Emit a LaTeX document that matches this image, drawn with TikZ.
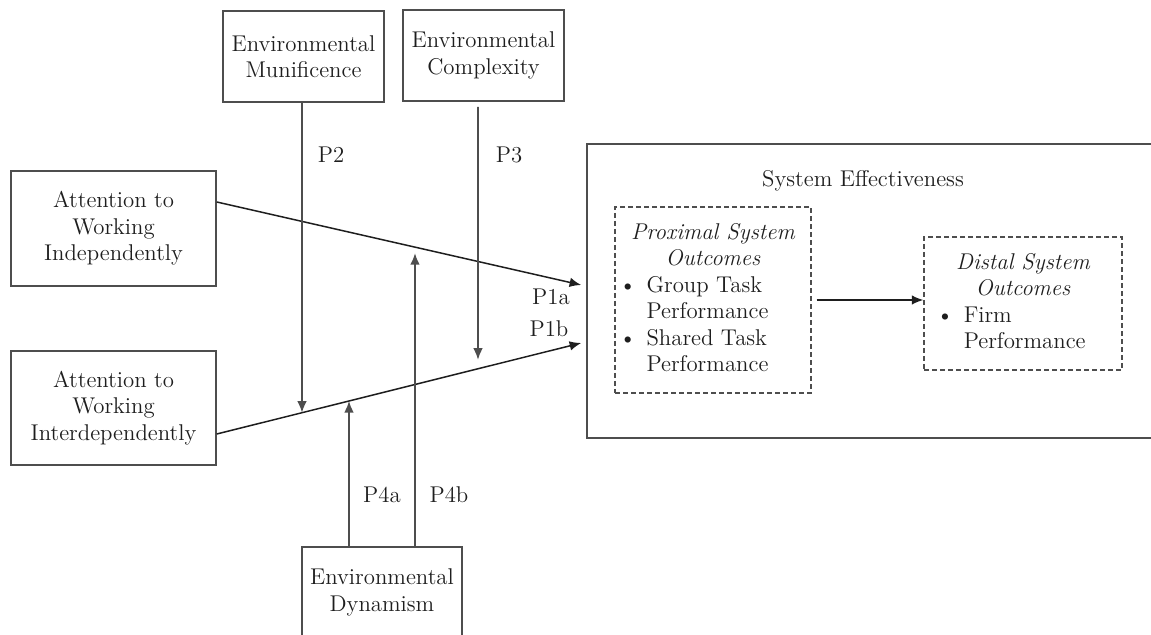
\documentclass[tikz,border=0pt]{standalone}
\usetikzlibrary{arrows.meta,calc}
\definecolor{ink}{HTML}{1E1E1E}
\definecolor{rule}{HTML}{4E4E4E}
\begin{document}
\begin{tikzpicture}[x=0.5pt,y=-0.5pt,
  font=\fontsize{11.4}{13.25}\selectfont,
  box/.style={draw=rule,line width=0.8pt,inner sep=0pt,align=center,text=ink},
  dbox/.style={draw=rule,line width=0.65pt,dash pattern=on 2.5pt off 1.5pt,inner sep=0pt,text=ink},
  arr/.style={draw=ink,line width=0.75pt,-{Latex[length=5.8pt,width=4.8pt]}},
  varr/.style={arr,draw=rule,line width=0.8pt},
  lab/.style={text=ink,inner sep=0pt}]
\useasboundingbox (0,0) rectangle (1151,635);
\clip (0,0) rectangle (1151,635);

% moderators
\node[box,minimum width=80.5pt,minimum height=45.5pt] (mun) at (303.5,56.5) {Environmental\\Munificence};
\node[box,minimum width=80.5pt,minimum height=45.5pt] (cpx) at (483.5,55.5) {Environmental\\Complexity};
\node[box,minimum width=80pt,minimum height=45.5pt] (dyn) at (382,592.5) {Environmental\\Dynamism};

% predictors
\node[box,minimum width=102.5pt,minimum height=57.5pt] (ind) at (113.5,228.5) {Attention to\\Working\\Independently};
\node[box,minimum width=102.5pt,minimum height=57pt] (itd) at (113.5,408) {Attention to\\Working\\Interdependently};

% outcome system
\node[box,minimum width=296.5pt,minimum height=147pt] (sys) at (883.5,291) {};
\node[lab] (systitle) at (863,181) {System Effectiveness};
\node[dbox,minimum width=98pt,minimum height=93pt] (prox) at (713,300) {%
  \begin{tabular}{@{}l@{\hspace{5pt}}l@{}}
  \multicolumn{2}{c}{\itshape Proximal System}\\
  \multicolumn{2}{c}{\itshape Outcomes}\\
  \textbullet & Group Task\\
   & Performance\\
  \textbullet & Shared Task\\
   & Performance
  \end{tabular}};
\node[dbox,minimum width=99pt,minimum height=66.5pt] (dist) at (1023,303.5) {%
  \begin{tabular}{@{}l@{\hspace{5pt}}l@{}p{12pt}@{}}
  \multicolumn{3}{c}{\itshape Distal System}\\
  \multicolumn{3}{c}{\itshape Outcomes}\\
  \textbullet & Firm & \\
   & Performance &
  \end{tabular}};

% main effects
\coordinate (a0) at ([yshift=13.25pt]ind.east);
\coordinate (a1) at ([yshift=3pt,xshift=-2.5pt]sys.west);
\coordinate (b0) at ([yshift=-13pt]itd.east);
\coordinate (b1) at ([yshift=-26pt,xshift=-2.5pt]sys.west);
\draw[arr] (a0) -- (a1);
\draw[arr] (b0) -- (b1);
\draw[arr,shorten <=2.5pt] (prox.east) -- (prox.east -| dist.west);

% moderating paths
\coordinate (m0) at ([xshift=-0.75pt]mun.south);
\coordinate (m1) at (m0 |- dyn.north);
\draw[varr] (m0) -- (intersection of m0--m1 and b0--b1);

\coordinate (c0) at ([xshift=-2.75pt,yshift=-2.5pt]cpx.south);
\coordinate (c1) at (c0 |- dyn.north);
\draw[varr,shorten >=4.5pt] (c0) -- (intersection of c0--c1 and b0--b1);

\coordinate (d0) at ([xshift=-16.5pt]dyn.north);
\coordinate (d1) at (d0 |- mun.south);
\draw[varr] (d0) -- (intersection of d0--d1 and b0--b1);

\coordinate (e0) at ([xshift=16.5pt]dyn.north);
\coordinate (e1) at (e0 |- mun.south);
\draw[varr,shorten >=3pt] (e0) -- (intersection of e0--e1 and a0--a1);

% path labels
\node[lab] (p2) at (331,155) {P2};
\node[lab] (p3) at (509,155) {P3};
\node[lab] (p1a) at (551,297) {P1a};
\node[lab] (p1b) at (549,329) {P1b};
\node[lab] (p4a) at (382,495) {P4a};
\node[lab] (p4b) at (449,495) {P4b};
\end{tikzpicture}
\end{document}
